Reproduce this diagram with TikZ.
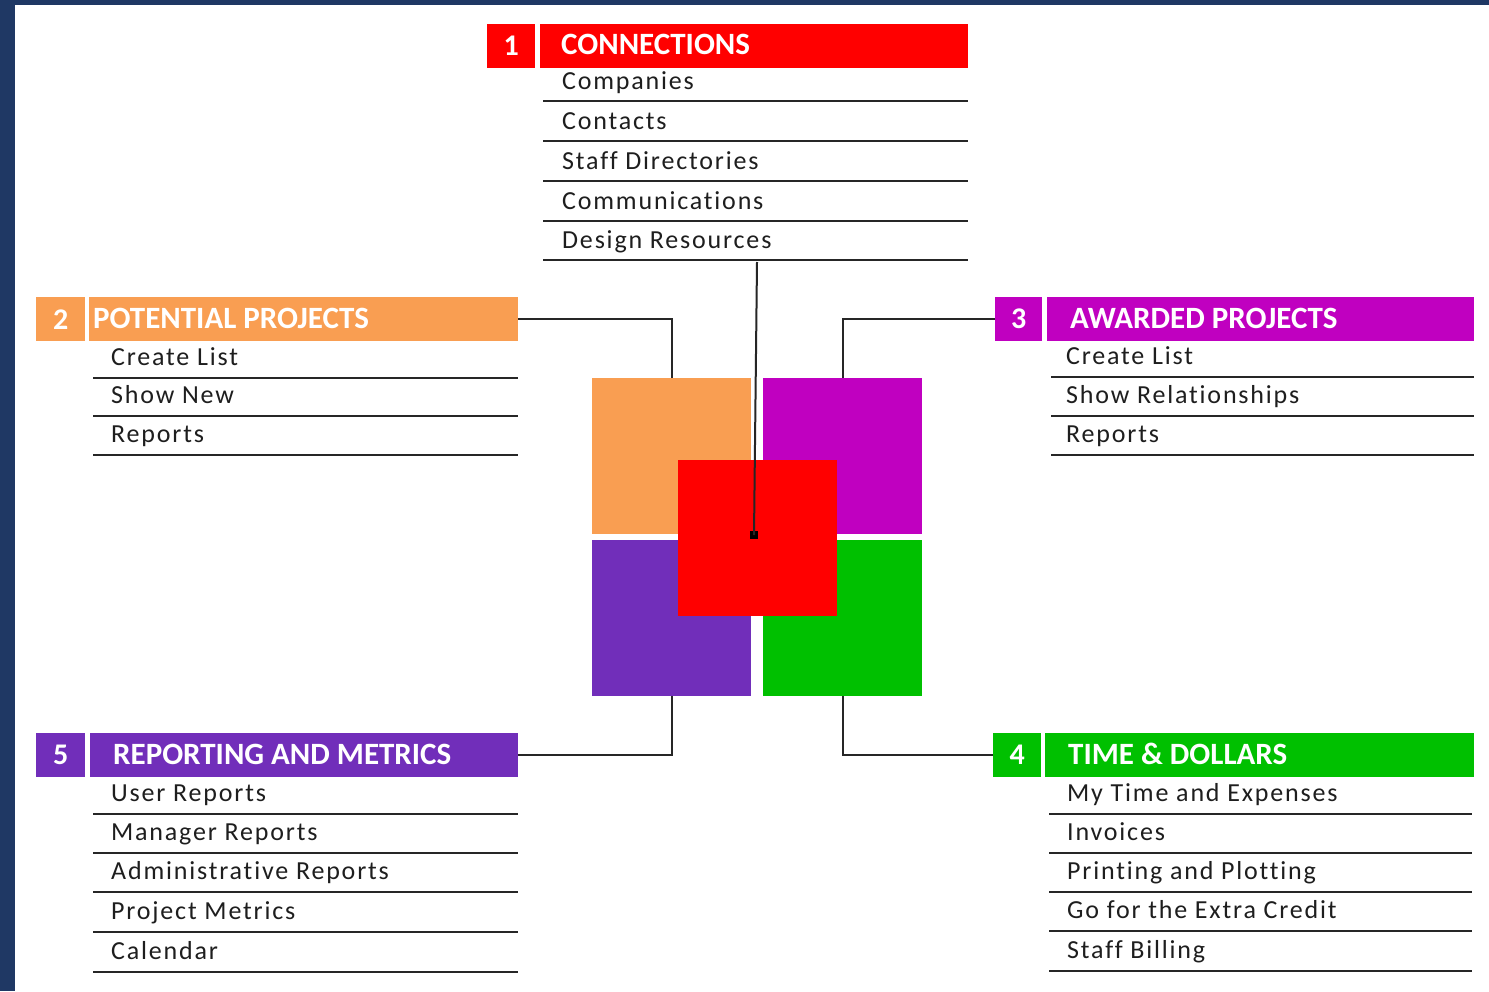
\documentclass[tikz,border=0pt]{standalone}
\usepackage{fontspec}
\setmainfont{Carlito}
\newfontfamily\itemfam{Carlito}[LetterSpace=7, Ligatures=NoCommon]
\definecolor{navy}{RGB}{31,56,100}
\definecolor{cRed}{RGB}{255,0,0}
\definecolor{cOrange}{RGB}{249,158,82}
\definecolor{cMagenta}{RGB}{192,0,192}
\definecolor{cPurple}{RGB}{113,46,186}
\definecolor{cGreen}{RGB}{0,192,0}
\definecolor{itemcol}{RGB}{30,30,30}
\tikzset{
 numbox/.style={anchor=north west, minimum height=44pt, inner sep=0pt, text=white, font=\bfseries\fontsize{30}{32}\selectfont},
 titlebox/.style={anchor=north west, minimum height=44pt, inner sep=0pt},
 titletext/.style={anchor=base west, inner sep=0pt, text=white, font=\bfseries\fontsize{31}{34}\selectfont},
 itemtext/.style={anchor=base west, inner sep=0pt, text=itemcol, font=\itemfam\fontsize{26}{30}\selectfont},
 rulel/.style={line width=2pt, draw=black!85},
 conn/.style={line width=2pt, draw=black!85},
 sq/.style={anchor=north west, minimum width=159pt, minimum height=156pt, inner sep=0pt},
 dotmark/.style={fill=black, minimum size=8pt, inner sep=0pt},
}
\begin{document}
\begin{tikzpicture}[x=1pt,y=-1pt]
\useasboundingbox (0,0) rectangle (1489,991);
\fill[navy] (0,0) rectangle (1489,991);
\fill[white] (15,5) rectangle (1489,991);

% ---- Group 1: CONNECTIONS
\node[numbox, fill=cRed, minimum width=48pt] (n1) at (487,24) {1};
\node[titlebox, fill=cRed, minimum width=428pt] (t1) at (540,24) {};
\node[titletext] (t1l) at (561,54) {CONNECTIONS};
\foreach \yy/\txt/\nm in {101/Companies/a, 141/Contacts/b, 181/Staff Directories/c, 221/Communications/d, 260/Design Resources/e}{
  \node[itemtext] (i1\nm) at (562,\yy-12) {\txt};
  \draw[rulel] (543,\yy) -- (968,\yy);
}

% ---- Group 2: POTENTIAL PROJECTS
\node[numbox, fill=cOrange, minimum width=49pt] (n2) at (36,297) {2};
\node[titlebox, fill=cOrange, minimum width=429pt] (t2) at (89,297) {};
\node[titletext] (t2l) at (93,328) {POTENTIAL PROJECTS};
\foreach \yy/\txt/\nm in {378/Create List/a, 416/Show New/b, 455/Reports/c}{
  \node[itemtext] (i2\nm) at (111,\yy-13) {\txt};
  \draw[rulel] (93,\yy) -- (518,\yy);
}

% ---- Group 3: AWARDED PROJECTS
\node[numbox, fill=cMagenta, minimum width=47pt] (n3) at (995,297) {3};
\node[titlebox, fill=cMagenta, minimum width=427pt] (t3) at (1047,297) {};
\node[titletext] (t3l) at (1070,328) {AWARDED PROJECTS};
\foreach \yy/\txt/\nm in {377/Create List/a, 416/Show Relationships/b, 455/Reports/c}{
  \node[itemtext] (i3\nm) at (1066,\yy-13) {\txt};
  \draw[rulel] (1051,\yy) -- (1474,\yy);
}

% ---- Group 4: TIME & DOLLARS
\node[numbox, fill=cGreen, minimum width=48pt] (n4) at (993,733) {4};
\node[titlebox, fill=cGreen, minimum width=429pt] (t4) at (1045,733) {};
\node[titletext] (t4l) at (1068,764) {TIME \& DOLLARS};
\foreach \yy/\txt/\nm in {814/My Time and Expenses/a, 853/Invoices/b, 892/Printing and Plotting/c, 931/Go for the Extra Credit/d, 971/Staff Billing/e}{
  \node[itemtext] (i4\nm) at (1067,\yy-13) {\txt};
  \draw[rulel] (1049,\yy) -- (1472,\yy);
}

% ---- Group 5: REPORTING AND METRICS
\node[numbox, fill=cPurple, minimum width=49pt] (n5) at (36,733) {5};
\node[titlebox, fill=cPurple, minimum width=428pt] (t5) at (90,733) {};
\node[titletext] (t5l) at (113,764) {REPORTING AND METRICS};
\foreach \yy/\txt/\nm in {814/User Reports/a, 853/Manager Reports/b, 892/Administrative Reports/c, 932/Project Metrics/d, 972/Calendar/e}{
  \node[itemtext] (i5\nm) at (111,\yy-13) {\txt};
  \draw[rulel] (93,\yy) -- (518,\yy);
}

% ---- Central squares
\node[sq, fill=cOrange] (sqO) at (592,378) {};
\node[sq, fill=cMagenta] (sqM) at (763,378) {};
\node[sq, fill=cPurple] (sqP) at (592,540) {};
\node[sq, fill=cGreen] (sqG) at (763,540) {};
\node[sq, fill=cRed] (sqR) at (678,460) {};

% ---- Connectors
\draw[conn] (t2.east) -| (sqO.north);
\draw[conn] (n3.west) -| (sqM.north);
\draw[conn] (t5.east) -| (sqP.south);
\draw[conn] (n4.west) -| (sqG.south);
\coordinate (c1) at (757,262);
\node[dotmark] (dot) at (754,535) {};
\draw[conn] (c1) -- (dot.center);
\end{tikzpicture}
\end{document}
